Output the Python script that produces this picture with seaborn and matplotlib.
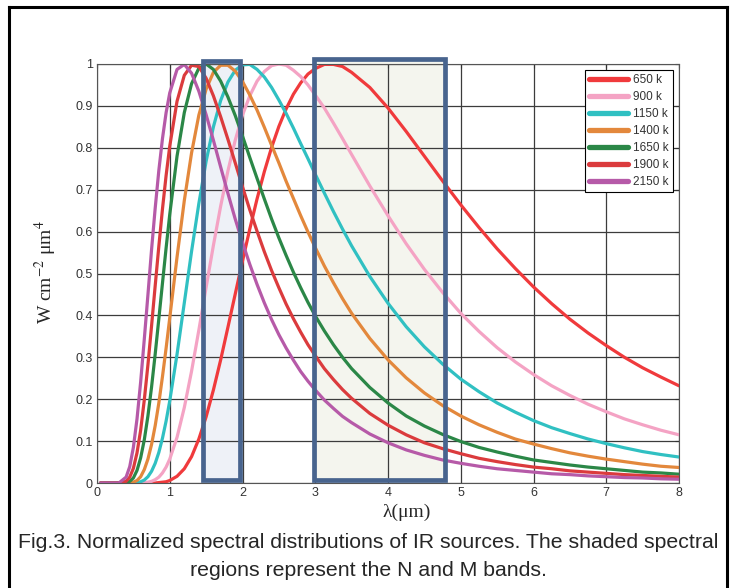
import matplotlib
matplotlib.use("Agg")
import matplotlib.pyplot as plt
import pandas as pd
import seaborn as sns
from matplotlib.patches import Rectangle
from matplotlib.lines import Line2D

# ---------------- data ----------------
wavelength = [0.05, 0.3, 0.4, 0.45, 0.5, 0.55, 0.6, 0.65, 0.7, 0.75, 0.8, 0.85, 0.9, 0.95, 1.0,
              1.1, 1.2, 1.3, 1.4, 1.5, 1.6, 1.7, 1.8, 1.9, 2.0,
              2.1, 2.2, 2.3, 2.4, 2.5, 2.6, 2.7, 2.8, 2.9, 3.0,
              3.125, 3.25, 3.375, 3.5, 3.75, 4.0,
              4.25, 4.5, 4.75, 5.0, 5.25, 5.5, 5.75, 6.0, 6.25, 6.5, 6.75, 7.0, 7.25, 7.5, 7.75, 8.0]

t650 = [0, 0, 0, 0, 0, 0, 0, 0, 0, 0, 0, 0.001, 0.002, 0.003, 0.006,
        0.016, 0.034, 0.063, 0.105, 0.158, 0.222, 0.294, 0.372, 0.451, 0.530,
        0.606, 0.678, 0.743, 0.801, 0.851, 0.893, 0.928, 0.955, 0.976, 0.989,
        0.999, 0.999, 0.994, 0.980, 0.944, 0.895,
        0.839, 0.780, 0.721, 0.664, 0.610, 0.559, 0.512, 0.468, 0.428, 0.391, 0.358, 0.328,
        0.300, 0.275, 0.253, 0.232]
t900 = [0, 0, 0, 0, 0, 0, 0, 0.001, 0.002, 0.004, 0.008, 0.014, 0.024, 0.038, 0.057,
        0.109, 0.180, 0.267, 0.365, 0.467, 0.567, 0.661, 0.745, 0.818, 0.878,
        0.924, 0.959, 0.982, 0.996, 1.000, 0.997, 0.985, 0.970, 0.950, 0.926,
        0.895, 0.859, 0.822, 0.784, 0.709, 0.638,
        0.571, 0.510, 0.455, 0.405, 0.362, 0.323, 0.289, 0.259, 0.232, 0.209, 0.188, 0.170,
        0.153, 0.139, 0.126, 0.115]
t1150 = [0, 0, 0, 0, 0, 0.001, 0.003, 0.007, 0.015, 0.028, 0.047, 0.073, 0.107, 0.148, 0.196,
         0.307, 0.430, 0.553, 0.667, 0.768, 0.850, 0.913, 0.957, 0.985, 0.998,
         0.999, 0.987, 0.969, 0.944, 0.914, 0.882, 0.847, 0.810, 0.774, 0.737,
         0.692, 0.648, 0.606, 0.566, 0.493, 0.429,
         0.373, 0.325, 0.284, 0.248, 0.218, 0.191, 0.169, 0.149, 0.132, 0.118, 0.105, 0.094,
         0.084, 0.075, 0.068, 0.062]
t1400 = [0, 0, 0, 0.001, 0.002, 0.006, 0.015, 0.032, 0.057, 0.092, 0.137, 0.191, 0.254, 0.322, 0.394,
         0.539, 0.674, 0.788, 0.878, 0.940, 0.980, 0.997, 0.997, 0.983, 0.958,
         0.926, 0.890, 0.849, 0.806, 0.764, 0.720, 0.679, 0.638, 0.599, 0.562,
         0.518, 0.478, 0.440, 0.405, 0.345, 0.294,
         0.251, 0.215, 0.185, 0.160, 0.139, 0.121, 0.105, 0.093, 0.082, 0.072, 0.064, 0.057,
         0.051, 0.045, 0.040, 0.037]
t1650 = [0, 0, 0.001, 0.004, 0.012, 0.030, 0.060, 0.103, 0.160, 0.229, 0.308, 0.392, 0.477, 0.561, 0.641,
         0.780, 0.884, 0.953, 0.990, 1.000, 0.987, 0.959, 0.921, 0.877, 0.828,
         0.777, 0.727, 0.678, 0.630, 0.585, 0.543, 0.503, 0.466, 0.431, 0.399,
         0.363, 0.330, 0.300, 0.273, 0.228, 0.191,
         0.160, 0.136, 0.116, 0.099, 0.085, 0.074, 0.064, 0.055, 0.049, 0.043, 0.038, 0.034,
         0.030, 0.026, 0.024, 0.021]
t1900 = [0, 0, 0.004, 0.014, 0.035, 0.072, 0.126, 0.198, 0.282, 0.375, 0.471, 0.565, 0.654, 0.734, 0.804,
         0.911, 0.973, 0.997, 0.994, 0.966, 0.924, 0.874, 0.820, 0.764, 0.707,
         0.652, 0.601, 0.552, 0.507, 0.466, 0.427, 0.392, 0.360, 0.330, 0.304,
         0.273, 0.247, 0.223, 0.202, 0.166, 0.138,
         0.115, 0.096, 0.082, 0.070, 0.059, 0.051, 0.044, 0.038, 0.034, 0.029, 0.026, 0.023,
         0.020, 0.018, 0.016, 0.014]
t2150 = [0, 0, 0.014, 0.039, 0.085, 0.153, 0.241, 0.343, 0.449, 0.557, 0.656, 0.746, 0.822, 0.884, 0.931,
         0.987, 0.999, 0.978, 0.935, 0.879, 0.818, 0.754, 0.691, 0.630, 0.574,
         0.522, 0.474, 0.430, 0.390, 0.354, 0.322, 0.293, 0.266, 0.243, 0.222,
         0.198, 0.178, 0.159, 0.144, 0.117, 0.096,
         0.079, 0.066, 0.055, 0.047, 0.040, 0.034, 0.030, 0.026, 0.022, 0.020, 0.017, 0.015,
         0.013, 0.012, 0.010, 0.009]

series_labels = ["650 k", "900 k", "1150 k", "1400 k", "1650 k", "1900 k", "2150 k"]
series_values = [t650, t900, t1150, t1400, t1650, t1900, t2150]
series_colors = ["#f03a3c", "#f4a3c4", "#30c0c2", "#e3883c", "#2b8747", "#db3b3d", "#b65aa8"]

x_ticks = [0, 1, 2, 3, 4, 5, 6, 7, 8]
y_ticks = [0, 0.1, 0.2, 0.3, 0.4, 0.5, 0.6, 0.7, 0.8, 0.9, 1.0]
y_tick_labels = ["0", "0.1", "0.2", "0.3", "0.4", "0.5", "0.6", "0.7", "0.8", "0.9", "1"]

n_band = (1.457, 1.966)
m_band = (2.976, 4.777)

caption_1 = "Fig.3. Normalized spectral distributions of IR sources. The shaded spectral"
caption_2 = "regions represent the N and M bands."

# ---------------- style ----------------
sns.set_style("white")
plt.rcParams["font.family"] = ["Liberation Sans", "DejaVu Sans"]
plt.rcParams["mathtext.fontset"] = "stix"

rows = []
for lab, vals in zip(series_labels, series_values):
    for w, v in zip(wavelength, vals):
        rows.append((w, v, lab))
df = pd.DataFrame(rows, columns=["wl", "val", "T"])

W, H = 734, 588
fig = plt.figure(figsize=(W / 100, H / 100), dpi=100)
ax = fig.add_axes([97 / W, 105 / H, 582 / W, 419 / H])

# shaded bands (below the grid)
band_fill = {"N": "#eef1f7", "M": "#f4f5ee"}
for (x0, x1), fc in [(n_band, band_fill["N"]), (m_band, band_fill["M"])]:
    ax.add_patch(Rectangle((x0, 0.006), x1 - x0, 1.0, facecolor=fc,
                           edgecolor="none", zorder=0.2, clip_on=False))

sns.lineplot(data=df, x="wl", y="val", hue="T", hue_order=series_labels,
             palette=dict(zip(series_labels, series_colors)), linewidth=2.3,
             sort=False, estimator=None, ax=ax, zorder=2)
for ln in ax.get_lines():
    ln.set_solid_joinstyle("round")

# band outlines on top of curves
for (x0, x1), top in [(n_band, 1.006), (m_band, 1.011)]:
    ax.add_patch(Rectangle((x0, 0.006), x1 - x0, top - 0.006, facecolor="none",
                           edgecolor="#48648e", linewidth=3.4, zorder=4,
                           clip_on=False, joinstyle="miter"))

ax.set_xlim(0, 8)
ax.set_ylim(0, 1)
ax.set_xticks(x_ticks)
ax.set_xticklabels([str(t) for t in x_ticks])
ax.set_yticks(y_ticks)
ax.set_yticklabels(y_tick_labels)
ax.set_axisbelow(True)
ax.grid(True, color="#3c3c3c", linewidth=0.9)
ax.tick_params(direction="in", length=3, width=0.8, top=True, right=True,
               labelsize=9, colors="#333333")
ax.tick_params(axis="x", pad=3)
ax.tick_params(axis="y", pad=3)
for s in ax.spines.values():
    s.set_color("#555555")
    s.set_linewidth(0.8)
ax.set_xlabel("")
ax.set_ylabel("")

handles, labels = ax.get_legend_handles_labels()
leg = ax.legend(handles, labels, loc="upper right", fontsize=8.5, frameon=True,
                fancybox=False, framealpha=1, edgecolor="black", borderpad=0.35,
                labelspacing=0.42, handlelength=3.3, handletextpad=0.45,
                borderaxespad=0.5)
leg.get_frame().set_linewidth(0.8)
for ln in leg.get_lines():
    ln.set_linewidth(3.8)
for t in leg.get_texts():
    t.set_color("#333333")
leg.set_zorder(6)

# axis labels
fig.text(407 / W, 1 - 512 / H, "λ(μm)", ha="center", va="center",
         fontsize=14, family=["Liberation Serif", "DejaVu Serif"])
fig.text(46 / W, 1 - 272 / H, r"W cm$^{-2}$ μm$^{4}$", rotation=90, ha="center",
         va="center", fontsize=14, family=["Liberation Serif", "DejaVu Serif"])

# caption
fig.text(368 / W, 1 - 543 / H, caption_1, ha="center", va="center", fontsize=15.3)
fig.text(368 / W, 1 - 570 / H, caption_2, ha="center", va="center", fontsize=15.3)

# outer frame
lx, rx, ty = 8.7 / W, 727 / W, 1 - 6.8 / H
for xs, ys in [([lx, lx], [0, ty]), ([rx, rx], [0, ty]), ([lx, rx], [ty, ty])]:
    fig.add_artist(Line2D(xs, ys, transform=fig.transFigure, color="black",
                          linewidth=2.2, solid_capstyle="projecting"))

fig.savefig("out.png", dpi=100)
